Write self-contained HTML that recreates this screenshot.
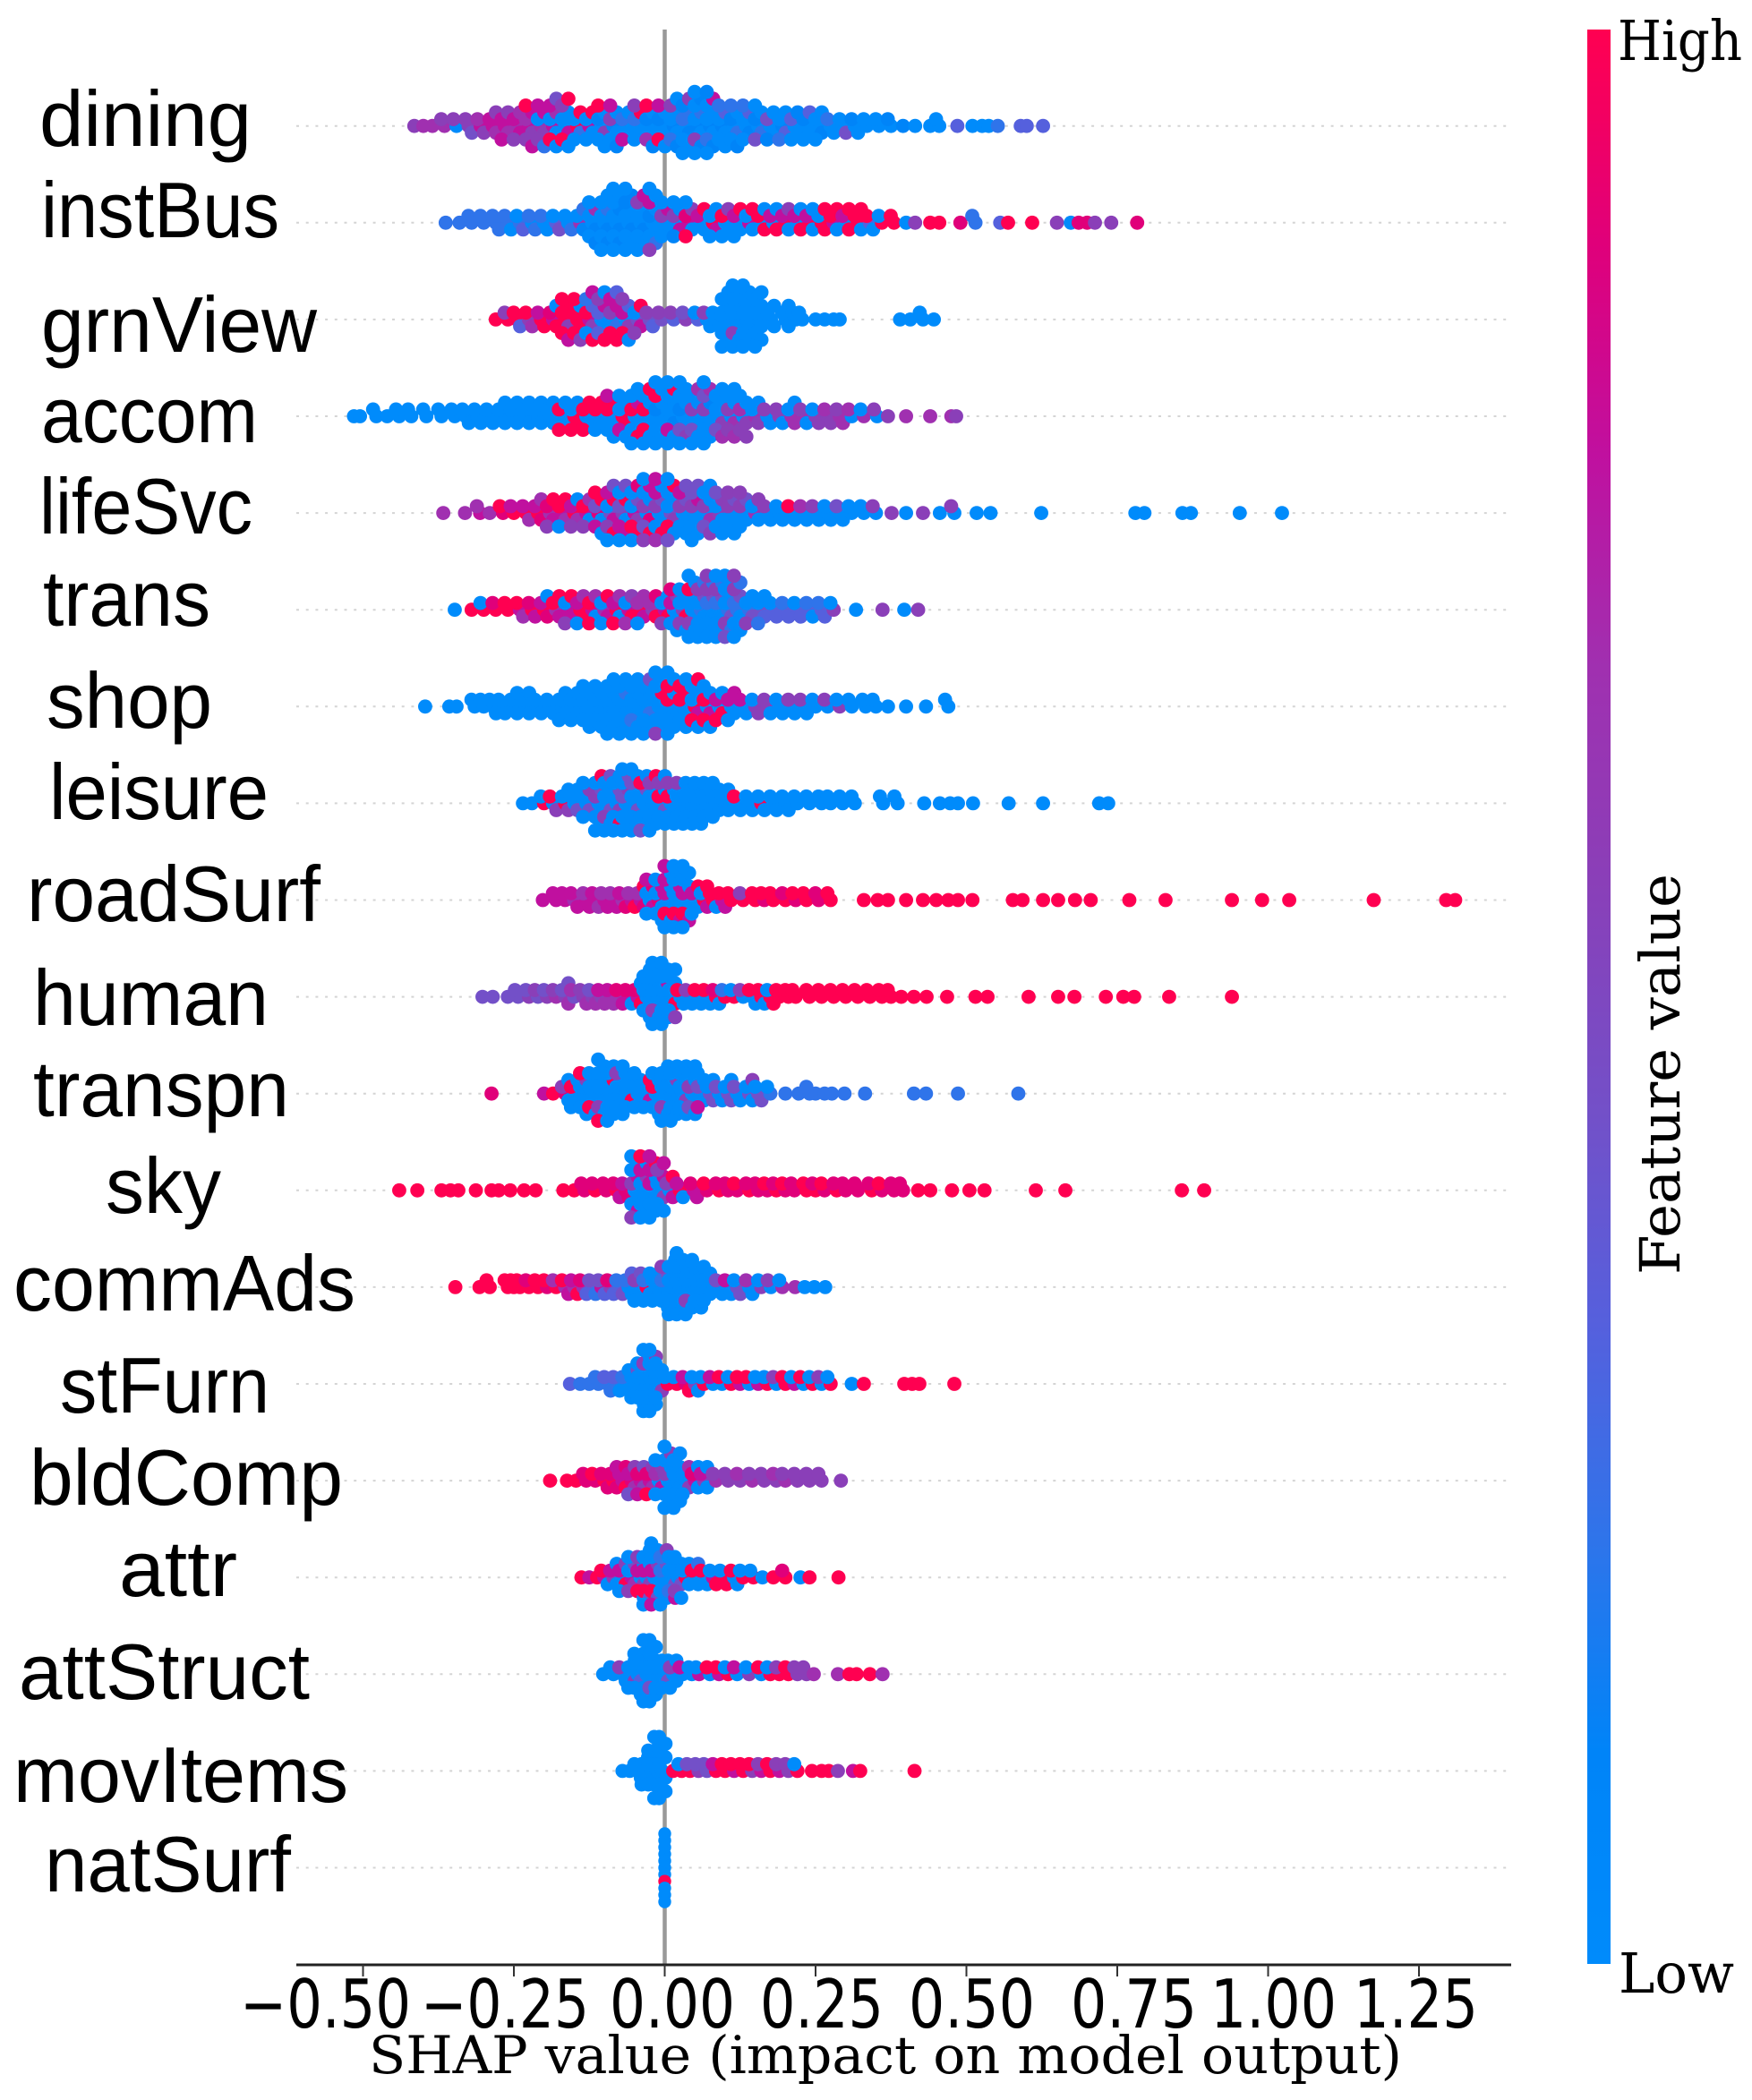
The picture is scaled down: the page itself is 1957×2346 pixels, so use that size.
<!DOCTYPE html>
<html lang="en">
<head>
<meta charset="utf-8">
<title>SHAP summary plot</title>
<style>
html,body{margin:0;padding:0;background:#fff;}
svg{display:block;}
.feat{font-family:"Liberation Sans",sans-serif;font-size:88px;fill:#000;}
.tick{font-family:"DejaVu Sans",sans-serif;font-size:75px;fill:#000;}
.ser{font-family:"DejaVu Serif",serif;fill:#000;}
</style>
</head>
<body>
<svg id="chart" xmlns="http://www.w3.org/2000/svg" width="1957" height="2346" viewBox="0 0 1957 2346">
  <defs>
    <linearGradient id="redBlue" x1="0" y1="1" x2="0" y2="0">
      <stop offset="0" stop-color="#008bfb"/>
      <stop offset="0.11" stop-color="#0084f8"/>
      <stop offset="0.22" stop-color="#2f74ea"/>
      <stop offset="0.33" stop-color="#5560dd"/>
      <stop offset="0.44" stop-color="#7350c8"/>
      <stop offset="0.56" stop-color="#8a3fb8"/>
      <stop offset="0.67" stop-color="#a030b0"/>
      <stop offset="0.78" stop-color="#c0109f"/>
      <stop offset="0.89" stop-color="#e0007a"/>
      <stop offset="1" stop-color="#ff0051"/>
    </linearGradient>
  </defs>
  <rect x="0" y="0" width="1957" height="2346" fill="#fff"/>
  <g id="guides"></g>
  <g id="zero"></g>
  <g id="dots"></g>
  <g id="axis"></g>

  <g>
    <text class="feat" x="44" y="163" textLength="237" lengthAdjust="spacingAndGlyphs">dining</text>
    <text class="feat" x="46" y="265" textLength="266" lengthAdjust="spacingAndGlyphs">instBus</text>
    <text class="feat" x="46" y="393" textLength="308" lengthAdjust="spacingAndGlyphs">grnView</text>
    <text class="feat" x="46" y="494" textLength="242" lengthAdjust="spacingAndGlyphs">accom</text>
    <text class="feat" x="44" y="596" textLength="238" lengthAdjust="spacingAndGlyphs">lifeSvc</text>
    <text class="feat" x="48" y="699" textLength="187" lengthAdjust="spacingAndGlyphs">trans</text>
    <text class="feat" x="52" y="813" textLength="185" lengthAdjust="spacingAndGlyphs">shop</text>
    <text class="feat" x="55" y="915" textLength="245" lengthAdjust="spacingAndGlyphs">leisure</text>
    <text class="feat" x="30" y="1029" textLength="328" lengthAdjust="spacingAndGlyphs">roadSurf</text>
    <text class="feat" x="37" y="1145" textLength="263" lengthAdjust="spacingAndGlyphs">human</text>
    <text class="feat" x="37" y="1247" textLength="286" lengthAdjust="spacingAndGlyphs">transpn</text>
    <text class="feat" x="118" y="1355" textLength="129" lengthAdjust="spacingAndGlyphs">sky</text>
    <text class="feat" x="15" y="1464" textLength="382" lengthAdjust="spacingAndGlyphs">commAds</text>
    <text class="feat" x="67" y="1578" textLength="234" lengthAdjust="spacingAndGlyphs">stFurn</text>
    <text class="feat" x="33" y="1681" textLength="350" lengthAdjust="spacingAndGlyphs">bldComp</text>
    <text class="feat" x="133" y="1783" textLength="132" lengthAdjust="spacingAndGlyphs">attr</text>
    <text class="feat" x="21" y="1898" textLength="325" lengthAdjust="spacingAndGlyphs">attStruct</text>
    <text class="feat" x="15" y="2013" textLength="374" lengthAdjust="spacingAndGlyphs">movItems</text>
    <text class="feat" x="50" y="2113" textLength="275" lengthAdjust="spacingAndGlyphs">natSurf</text>
  </g>

  <g>
    <text class="tick" x="268" y="2265" textLength="191" lengthAdjust="spacingAndGlyphs">−0.50</text>
    <text class="tick" x="470" y="2265" textLength="188" lengthAdjust="spacingAndGlyphs">−0.25</text>
    <text class="tick" x="681" y="2265" textLength="140" lengthAdjust="spacingAndGlyphs">0.00</text>
    <text class="tick" x="849" y="2265" textLength="138" lengthAdjust="spacingAndGlyphs">0.25</text>
    <text class="tick" x="1015" y="2265" textLength="141" lengthAdjust="spacingAndGlyphs">0.50</text>
    <text class="tick" x="1196" y="2265" textLength="141" lengthAdjust="spacingAndGlyphs">0.75</text>
    <text class="tick" x="1352" y="2265" textLength="141" lengthAdjust="spacingAndGlyphs">1.00</text>
    <text class="tick" x="1512" y="2265" textLength="139" lengthAdjust="spacingAndGlyphs">1.25</text>
  </g>

  <text class="ser" x="412" y="2316" font-size="58" textLength="1154" lengthAdjust="spacingAndGlyphs">SHAP value (impact on model output)</text>

  <g>
    <rect x="1773" y="33" width="26" height="2161" fill="url(#redBlue)"/>
    <text class="ser" x="1807" y="67" font-size="62" textLength="139" lengthAdjust="spacingAndGlyphs">High</text>
    <text class="ser" x="1808" y="2226" font-size="62" textLength="129" lengthAdjust="spacingAndGlyphs">Low</text>
    <text class="ser" transform="translate(1876 1424) rotate(-90)" x="0" y="0" font-size="62" textLength="448" lengthAdjust="spacingAndGlyphs">Feature value</text>
  </g>
</svg>

<script>
const features=["dining","instBus","grnView","accom","lifeSvc","trans","shop","leisure","roadSurf","human","transpn","sky","commAds","stFurn","bldComp","attr","attStruct","movItems","natSurf"];
const xTickValues=[-0.5,-0.25,0,0.25,0.5,0.75,1,1.25];

const diningShap=[-.415,-.4,-.385,-.365,-.345,-.325,-.305,-.285,-.265,-.245,
-.225,-.205,-.185,-.165,-.145,-.125,-.105,-.085,-.065,-.045,
-.025,-.005,.015,.035,.055,.075,.095,.115,.135,.155,
.175,.195,.215,.235,.255,.275,.295,.315,.335,.355,
.375,.395,.415,.44,.455,.485,.51,.526,.537,.552,
.59,.6,.627];
const diningFeat=["5","6","6","65","05","554","765","7765","77657","67765",
"7657597","6057572","70069704","00709509","90290","70090","0150090","1500071","02007","020905",
"0100691","0100970","10002510","021201050","1002501100","1000201701","1003020","0120021","001302","012040",
"04001","10302","03010","01030","00100","020","004","010","00","00",
"01","1","0","0","00","3","0","0","0","2",
"3","3","3"];

const instBusShap=[-.363,-.34,-.32,-.3,-.28,-.26,-.24,-.22,-.2,-.18,
-.16,-.14,-.12,-.1,-.08,-.06,-.04,-.02,0,.02,
.04,.06,.08,.1,.12,.14,.16,.18,.2,.22,
.24,.26,.28,.3,.32,.34,.36,.38,.4,.415,
.44,.455,.49,.515,.556,.569,.609,.65,.673,.686,
.7,.713,.74,.783];
const instBusFeat=["2","2","22","22","222","220","203","022","020","304",
"002","6012","0016001","001200100","0011001000","0010010100","001005070","0100072050","050700","057010",
"780590","0709","90700","09050","07090","7009","0990","0790","9705","0790",
"9700","9099","7909","0799","9909","390","90","99","0","5",
"9","9","8","22","3","9","9","5","0","8",
"8","5","5","8"];

const grnViewShap=[-.28,-.26,-.245,-.225,-.205,-.185,-.165,-.145,-.125,-.105,
-.085,-.065,-.045,-.025,-.005,.015,.035,.055,.07,.085,
.1,.118,.135,.155,.176,.2,.217,.228,.25,.265,
.28,.29,.39,.407,.428,.446];
const grnViewFeat=["9","95","993","596","979","7890","9959997","9990995","79530297","03073590",
"05279793","0753950","40795","453","45","35","54","30","050","000",
"000000000","0000500000","0000000000","000000000","0000","0000","00","00","0","0",
"0","0","0","0","00","0"];

const accomShap=[-.515,-.505,-.478,-.46,-.44,-.42,-.395,-.37,-.348,-.33,
-.31,-.29,-.27,-.25,-.23,-.21,-.19,-.17,-.15,-.13,
-.11,-.09,-.07,-.05,-.03,-.01,.01,.03,.05,.07,
.09,.11,.13,.15,.17,.19,.21,.23,.25,.27,
.29,.31,.33,.352,.37,.4,.44,.475,.483];
const accomFeat=["0","0","00","0","00","00","00","00","00","000",
"000","000","0000","0000","0000","0000","0000","09009","90909","09099",
"09090","0909070","9090700","090700900","090090090","0100090000","0010700900","0100405000","050040060","0501040600",
"00504060","05605060","0650505","6050","050","550","6060","650","505","565",
"656","06","60","05","5","6","6","6","5"];

const lifeSvcShap=[-.367,-.331,-.306,-.29,-.268,-.25,-.23,-.21,-.19,-.17,
-.15,-.13,-.11,-.09,-.07,-.05,-.03,-.01,.01,.03,
.05,.07,.09,.11,.13,.15,.17,.19,.21,.23,
.25,.27,.29,.31,.33,.35,.376,.4,.428,.456,
.48,.517,.54,.624,.78,.795,.858,.872,.953,1.023];
const lifeSvcFeat=["6","6","76","6","89","97","976","9786","68795","79690",
"97605","79065","8409790","407957940","540970740","705490980","0580409750","0504079067","4050900940","05040704",
"050704040","05604050","5005040","0504050","050405","6005","050","000","090","060",
"050","000","040","00","00","05","5","0","5","0",
"05","0","0","0","0","0","0","0","0","0"];

const transShap=[-.348,-.32,-.3,-.28,-.26,-.24,-.22,-.2,-.18,-.16,
-.14,-.12,-.1,-.08,-.06,-.04,-.02,0,.015,.03,
.045,.06,.075,.09,.105,.12,.14,.16,.18,.2,
.22,.24,.26,.28,.317,.361,.397,.42];
const transFeat=["0","9","90","98","99","796","987","9780","6979","70795",
"97960","79069","60790","97069","70956","96760","5698","70905","0705080","5090500",
"0000590000","200405020","0204050205","0204050200","2040502040","2204050205","20405","40302","303","323",
"303","320","323","50","0","5","0","5"];

const shopShap=[-.397,-.357,-.345,-.315,-.3,-.285,-.27,-.25,-.23,-.21,
-.19,-.17,-.15,-.13,-.11,-.09,-.07,-.05,-.03,-.01,
.01,.03,.05,.07,.09,.11,.13,.15,.17,.19,
.21,.23,.25,.27,.29,.31,.333,.35,.37,.4,
.433,.47];
const shopFeat=["0","0","0","00","00","000","000","0000","0000","000",
"000","00000","00000","0000000","0000000","000000000","000200000","000020000","002000040","0009000050",
"0900090000","09090900","90709009","0970900","07909","07070","070","505","550","000",
"050","050","00","05","50","00","00","00","0","0",
"0","00"];

const leisureShap=[-.235,-.22,-.2,-.185,-.165,-.15,-.13,-.11,-.095,-.08,
-.065,-.05,-.035,-.02,-.005,.01,.025,.04,.055,.07,
.085,.1,.12,.14,.16,.18,.2,.22,.24,.26,
.275,.295,.315,.362,.386,.43,.456,.473,.486,.511,
.57,.627,.72,.735];
const leisureFeat=["0","0","90","095","9050","0040","004500","050400090","004050040","005400900",
"0405000400","0040040000","000409004","000005090","09400500","0900050","0000050","0000000","0000000","000000",
"000000","0000","090","000","900","000","000","00","00","00",
"00","00","00","00","00","0","0","0","0","0",
"0","0","0","0"];

const roadSurfShap=[-.202,-.18,-.165,-.15,-.13,-.115,-.1,-.085,-.07,-.055,
-.04,-.025,-.01,.005,.02,.035,.05,.065,.08,.095,
.11,.13,.15,.165,.18,.2,.217,.235,.255,.275,
.33,.353,.37,.4,.428,.45,.47,.486,.51,.577,
.593,.627,.652,.68,.706,.77,.83,.94,.99,1.035,
1.175,1.295,1.31];
const roadSurfFeat=["7","77","77","677","767","776","767","767","678","769",
"7689","007807","8007000","0700970007","0007907000","0700907000","07090","9079","990","797",
"99","95","99","89","99","98","89","99","88","99",
"9","9","9","9","9","9","9","9","9","9",
"9","9","9","9","9","9","9","9","9","9",
"9","9","9"];

const humanShap=[-.302,-.285,-.26,-.243,-.225,-.21,-.195,-.18,-.165,-.15,
-.135,-.12,-.105,-.09,-.075,-.06,-.045,-.03,-.015,0,
.012,.026,.04,.055,.07,.085,.1,.115,.13,.145,
.16,.175,.19,.205,.217,.24,.26,.28,.3,.32,
.34,.36,.375,.392,.413,.434,.468,.515,.535,.603,
.652,.679,.731,.76,.778,.836,.94];
const humanFeat=["4","4","4","44","54","45","54","65","5464","46",
"556","546","576","676","687","780","7890","00000000","0000500000","0007000000",
"00900050","090","050","090","090","980","92","90","05","090",
"990","909","99","99","99","99","99","99","99","99",
"99","99","99","9","9","9","9","9","9","9",
"9","9","9","9","9","9","9"];

const transpnShap=[-.287,-.2,-.185,-.165,-.15,-.135,-.12,-.105,-.09,-.075,
-.06,-.045,-.03,-.015,0,.015,.03,.045,.06,.075,
.09,.105,.12,.14,.155,.175,.2,.222,.24,.25,
.265,.277,.298,.332,.413,.433,.486,.586];
const transpnFeat=["8","7","9","8500","09000","0005090","0000900","0000500090","000900000","00000500",
"009000","000000","00790","0900000","000050000","000500000","00500000","05004000","040070","4040",
"040","4040","040","4005","404","20","2","2","22","2",
"2","2","2","2","2","2","2","2"];

const skyShap=[-.44,-.41,-.37,-.355,-.342,-.313,-.287,-.275,-.256,-.233,
-.214,-.168,-.15,-.133,-.115,-.097,-.08,-.065,-.05,-.035,
-.02,-.007,.008,.025,.048,.07,.09,.105,.12,.14,
.155,.17,.185,.2,.215,.235,.25,.265,.285,.3,
.32,.343,.36,.38,.395,.42,.44,.476,.505,.53,
.615,.664,.857,.894];
const skyFeat=["9","9","9","9","9","9","9","9","9","9",
"9","9","9","88","98","88","987","878","0507007050","0005070009",
"0700070907","00570507","0579","970","787","89","98","88","89","98",
"88","89","98","89","88","99","98","89","98","88",
"88","98","89","88","88","9","9","9","9","9",
"9","9","9","9"];

const commAdsShap=[-.347,-.307,-.29,-.26,-.25,-.24,-.225,-.21,-.195,-.18,
-.165,-.15,-.135,-.12,-.105,-.09,-.075,-.06,-.045,-.03,
-.015,0,.012,.025,.04,.055,.07,.09,.105,.12,
.14,.16,.176,.195,.216,.232,.248,.266];
const commAdsFeat=["9","9","99","99","99","99","98","99","89","96",
"697","679","683","342","743","583","324","0203","05040","92000",
"00000","0204050","000000000","0000000000","000050000","0000000","000000","040","070","404",
"060","50","05","60","6","0","0","0"];

const stFurnShap=[-.157,-.14,-.125,-.11,-.095,-.08,-.065,-.05,-.04,-.03,
-.02,-.01,.005,.02,.035,.05,.065,.08,.095,.11,
.125,.14,.155,.17,.185,.2,.215,.23,.245,.26,
.275,.31,.33,.397,.41,.422,.48];
const stFurnFeat=["3","2","2","22","232","230","0200","00040","0000000","0000050000",
"0000000500","005000","90","90","879","500","90","07","09","90",
"79","09","70","90","05","99","70","09","90","05",
"90","0","9","9","9","9","9"];

const bldCompShap=[-.19,-.162,-.147,-.13,-.115,-.1,-.085,-.07,-.055,-.04,
-.025,-.01,.005,.02,.035,.05,.065,.085,.105,.125,
.145,.165,.185,.2,.22,.24,.26,.292];
const bldCompFeat=["9","9","9","88","89","988","9887","7798","87654","78547",
"78659","067500","0500000500","000000000","00560","7800","5700","65","55","56",
"65","55","56","65","55","55","55","5"];

const attrShap=[-.138,-.125,-.112,-.1,-.085,-.07,-.055,-.04,-.03,-.017,
-.002,.012,.022,.035,.05,.065,.08,.097,.115,.13,
.147,.162,.18,.2,.225,.24,.288];
const attrFeat=["9","7","9","790","5700","07950","706450","0750950","075090400","0705904070",
"020402050","0040207","0040500","9000","0902","090","709","909","090","90",
"90","0","9","98","0","9","9"];

const attStructShap=[-.102,-.085,-.07,-.055,-.045,-.03,-.02,-.01,0,.014,
.03,.045,.057,.075,.09,.105,.12,.14,.16,.175,
.19,.205,.22,.235,.247,.287,.306,.318,.34,.361];
const attStructFeat=["0","00","050","00500","0030000","0000000000","0000400000","00000","00400","05000",
"07","00","70","09","79","90","07","50","09","90",
"95","99","55","55","6","6","9","9","9","6"];

const movItemsShap=[-.07,-.058,-.045,-.033,-.022,-.012,-.004,.014,.028,.042,
.056,.07,.085,.1,.115,.13,.145,.16,.175,.19,
.205,.22,.244,.26,.272,.287,.312,.324,.414];
const movItemsFeat=["0","0","000","00000","000000","0000000000","0000000000","9","90","94",
"54","44","97","99","79","99","59","75","99","75",
"55","90","9","9","9","5","7","9","9"];

const natSurfShap=[0];
const natSurfFeat=["00009000000"];

const shapSeries=[diningShap,instBusShap,grnViewShap,accomShap,lifeSvcShap,transShap,shopShap,leisureShap,roadSurfShap,humanShap,transpnShap,skyShap,commAdsShap,stFurnShap,bldCompShap,attrShap,attStructShap,movItemsShap,natSurfShap];
const featSeries=[diningFeat,instBusFeat,grnViewFeat,accomFeat,lifeSvcFeat,transFeat,shopFeat,leisureFeat,roadSurfFeat,humanFeat,transpnFeat,skyFeat,commAdsFeat,stFurnFeat,bldCompFeat,attrFeat,attStructFeat,movItemsFeat,natSurfFeat];

const NS="http://www.w3.org/2000/svg";
function xScale(v){return 742.5+674*v;}
function yRow(i){return 140.7+108.1*i;}
function swarmOffset(k){
  if(k===0)return 0;
  const step=Math.ceil(k/2)*7.6;
  return k%2===1?-step:step;
}
function swarmShift(k){
  if(k===0)return 0;
  const m=Math.ceil(k/2);
  const side=(k%2===1)===(m%2===1)?-1:1;
  return side*3.6;
}
function featureColor(level){
  const palette=["#008bfb","#0084f8","#2f74ea","#5560dd","#7350c8","#8a3fb8","#a030b0","#c0109f","#e0007a","#ff0051"];
  return palette[level];
}

const guides=document.getElementById('guides');
features.forEach(function(name,i){
  const g=document.createElementNS(NS,'line');
  
  
  g.setAttribute('x1',331);
  g.setAttribute('x2',1688);
  g.setAttribute('y1',yRow(i));
  g.setAttribute('y2',yRow(i));
  g.setAttribute('stroke','#d4d4d4');
  g.setAttribute('stroke-width','2');
  g.setAttribute('stroke-dasharray','3 7.7');
  guides.appendChild(g);
});

const zero=document.getElementById('zero');
const zeroLine=document.createElementNS(NS,'line');


zeroLine.setAttribute('x1',xScale(0));
zeroLine.setAttribute('x2',xScale(0));
zeroLine.setAttribute('y1',33);
zeroLine.setAttribute('y2',2195);
zeroLine.setAttribute('stroke','#999');
zeroLine.setAttribute('stroke-width','4.5');
zero.appendChild(zeroLine);

const dots=document.getElementById('dots');
features.forEach(function(name,i){
  const row=document.createElementNS(NS,'g');
  
  
  const shap=shapSeries[i];
  const feat=featSeries[i];
  const single=shap.length===1;
  shap.forEach(function(v,c){
    const levels=feat[c]||"0";
    for(let k=0;k<levels.length;k++){
      const dot=document.createElementNS(NS,'circle');
      
      
      dot.setAttribute('cx',xScale(v)+(single?0:swarmShift(k)));
      dot.setAttribute('cy',yRow(i)+swarmOffset(k));
      dot.setAttribute('r',single?'7.2':'7.9');
      dot.setAttribute('fill',featureColor(Number(levels[k])));
      row.appendChild(dot);
    }
  });
  dots.appendChild(row);
});

const axis=document.getElementById('axis');
const axisLine=document.createElementNS(NS,'line');


axisLine.setAttribute('x1',331);
axisLine.setAttribute('x2',1688);
axisLine.setAttribute('y1',2195);
axisLine.setAttribute('y2',2195);
axisLine.setAttribute('stroke','#222');
axisLine.setAttribute('stroke-width','3');
axis.appendChild(axisLine);
xTickValues.forEach(function(v){
  const t=document.createElementNS(NS,'line');
  
  
  t.setAttribute('x1',xScale(v));
  t.setAttribute('x2',xScale(v));
  t.setAttribute('y1',2195);
  t.setAttribute('y2',2208);
  t.setAttribute('stroke','#333');
  t.setAttribute('stroke-width','2');
  axis.appendChild(t);
});
</script>
</body>
</html>
